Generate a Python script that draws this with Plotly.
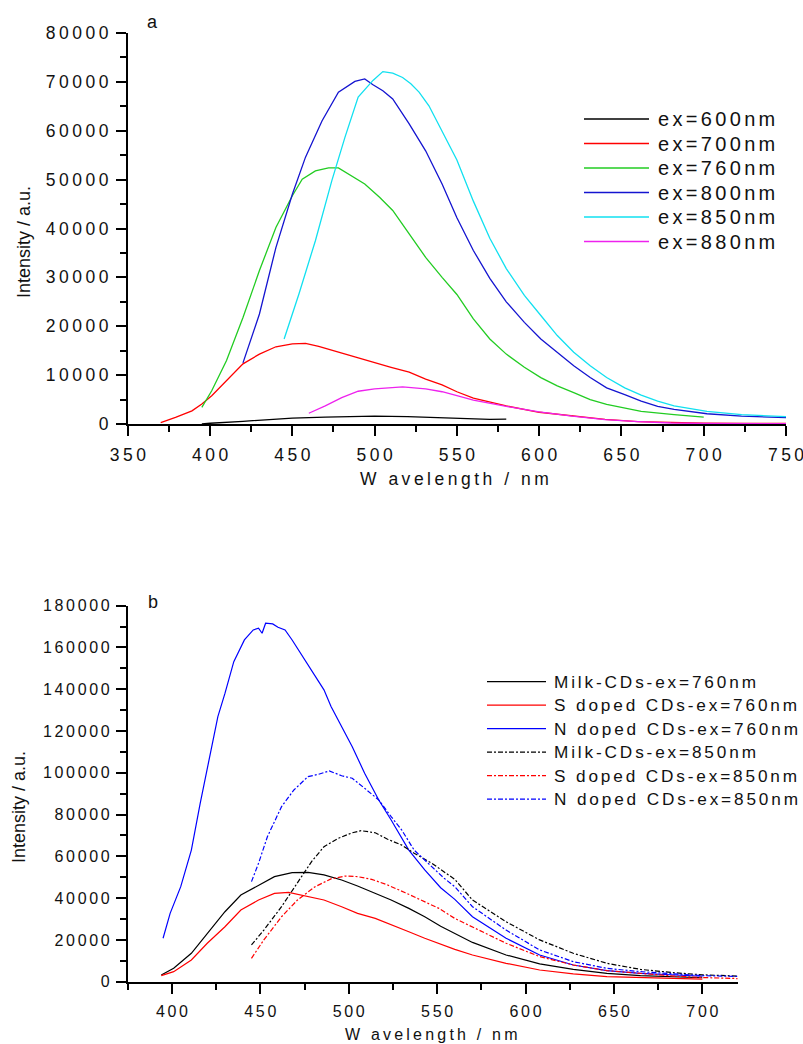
import plotly.graph_objects as go

W, H = 803, 1044
FONT = "Liberation Sans, Arial, sans-serif"

# ---------------- panel a: emission spectra at several excitation wavelengths
a600_x = [395, 400, 420, 434, 450, 470, 490, 500, 520, 540, 555, 570, 580]
a600_y = [0, 150, 550, 900, 1200, 1400, 1550, 1600, 1500, 1250, 1050, 950, 1000]

a700_x = [370, 379, 389, 395, 401, 410, 420, 430, 440, 450, 458, 466, 478, 490, 500,
          510, 521, 531, 541, 550, 560, 580, 600, 620, 640, 660, 680, 700, 725, 750]
a700_y = [300, 1350, 2700, 4100, 5800, 8900, 12300, 14300, 15800, 16400, 16500, 15900,
          14700, 13600, 12600, 11600, 10600, 9200, 8000, 6600, 5300, 3700, 2400, 1600,
          950, 500, 280, 180, 120, 100]

a760_x = [395, 401, 410, 420, 430, 440, 450, 456, 464, 472, 478, 486, 494, 503, 511, 521,
          531, 541, 550, 560, 570, 580, 591, 601, 611, 621, 631, 641, 662, 682, 700]
a760_y = [3400, 6800, 13000, 21800, 31400, 40200, 46700, 50100, 51800, 52400, 52400,
          50800, 49100, 46400, 43700, 38900, 34100, 30000, 26500, 21500, 17400, 14300,
          11600, 9500, 7800, 6400, 5000, 4000, 2600, 1900, 1400]

a800_x = [420, 430, 440, 450, 458, 468, 478, 488, 494, 499, 505, 511, 521, 531, 541, 550,
          560, 570, 580, 591, 601, 611, 621, 631, 641, 652, 662, 672, 682, 702, 723, 750]
a800_y = [12500, 22500, 36100, 47000, 54600, 62000, 67900, 70100, 70600, 69400, 68200,
          66500, 61400, 55900, 49100, 42200, 35500, 29800, 25000, 20800, 17400, 14600,
          11900, 9500, 7400, 6000, 4700, 3600, 3000, 2100, 1600, 1300]

a850_x = [445, 454, 464, 474, 482, 490, 499, 505, 511, 517, 522, 527, 533, 540, 550, 560,
          570, 580, 591, 601, 611, 621, 631, 641, 652, 662, 672, 682, 702, 723, 750]
a850_y = [17400, 26600, 37500, 49800, 58700, 66900, 70300, 72100, 71800, 70900, 69600,
          67900, 65100, 60400, 54000, 45600, 38000, 31800, 26300, 22200, 18100, 14700,
          11900, 9500, 7400, 5900, 4700, 3700, 2600, 1900, 1500]

a880_x = [460, 470, 480, 490, 500, 510, 517, 531, 541, 550, 560, 580, 600, 620, 640, 660,
          680, 700, 725, 750]
a880_y = [2200, 3700, 5400, 6700, 7200, 7500, 7600, 7200, 6600, 5800, 4900, 3600, 2500,
          1600, 900, 500, 200, 100, 50, 50]

a_names = ["ex=600nm", "ex=700nm", "ex=760nm", "ex=800nm", "ex=850nm", "ex=880nm"]
a_colors = ["#000000", "#ff0000", "#22cc22", "#1414d0", "#11e0f0", "#ee22ee"]
a_series = [(a600_x, a600_y), (a700_x, a700_y), (a760_x, a760_y),
            (a800_x, a800_y), (a850_x, a850_y), (a880_x, a880_y)]

# ---------------- panel b: milk CDs vs S / N doped CDs
milk760_x = [394, 401, 411, 420, 430, 439, 449, 458, 468, 477, 486, 496, 505, 515, 524, 534,
             543, 552, 560, 570, 589, 608, 627, 646, 665, 684, 700]
milk760_y = [3200, 6400, 13600, 23100, 33500, 41500, 46300, 50300, 52200, 52300, 51100,
             48700, 45800, 42300, 39100, 35100, 31100, 26500, 23000, 18800, 12800, 8500,
             5900, 4000, 2900, 2400, 1900]

s760_x = [394, 401, 411, 420, 430, 439, 449, 458, 466, 473, 486, 496, 505, 515, 524, 534,
          543, 552, 560, 570, 589, 608, 627, 646, 665, 684, 700]
s760_y = [2900, 4800, 10400, 18400, 26300, 34300, 39100, 42300, 42800, 41500, 39100, 35900,
          32700, 30300, 27100, 23900, 20800, 17800, 15500, 12800, 8800, 5600, 3700, 2400,
          2000, 1600, 1200]

n760_x = [395, 399, 405, 411, 416, 422, 426, 430, 435, 441, 446, 449, 451, 453, 457, 460,
          464, 468, 471, 476, 481, 486, 490, 496, 502, 509, 517, 524, 534, 543, 552, 560,
          570, 589, 608, 627, 646, 665, 684, 700]
n760_y = [20800, 32700, 45500, 63000, 85400, 110900, 126900, 138000, 153200, 163600,
          168400, 169200, 166800, 171600, 171300, 169700, 168400, 163600, 159600, 153200,
          146800, 139700, 131700, 122100, 112500, 99800, 87000, 77400, 63000, 53500, 45000,
          39400, 31100, 20800, 12800, 8000, 5300, 4000, 3200, 2600]

milk850_x = [445, 452, 462, 471, 479, 486, 494, 502, 507, 515, 522, 530, 537, 547, 554, 560,
             570, 589, 608, 627, 646, 665, 684, 700, 720]
milk850_y = [17600, 24700, 35900, 47100, 57500, 64600, 68600, 71300, 72300, 71300, 68200,
             65400, 61500, 56700, 52700, 49000, 39100, 28700, 20000, 13600, 8800, 5900,
             4300, 3300, 2700]

s850_x = [445, 452, 462, 471, 481, 490, 498, 505, 513, 522, 532, 541, 551, 560, 570, 589,
          608, 627, 646, 665, 684, 700, 720]
s850_y = [11200, 20000, 31100, 39100, 45500, 49200, 50600, 50300, 49000, 46300, 42600,
          39100, 35100, 30300, 26300, 18400, 12000, 8000, 5300, 4000, 2700, 2000, 1500]

n850_x = [445, 449, 454, 462, 469, 477, 483, 489, 496, 502, 509, 517, 524, 530, 537, 547,
          554, 560, 570, 589, 608, 627, 646, 665, 684, 700, 720]
n850_y = [47900, 56700, 69400, 83800, 91800, 98200, 99300, 100900, 98600, 97400, 92600,
          87000, 79000, 72600, 63000, 55100, 49500, 45500, 35900, 24700, 15200, 9600, 6400,
          4800, 3700, 2900, 2500]

b_names = ["Milk-CDs-ex=760nm", "S doped CDs-ex=760nm", "N doped CDs-ex=760nm",
           "Milk-CDs-ex=850nm", "S doped CDs-ex=850nm", "N doped CDs-ex=850nm"]
b_colors = ["#000000", "#ff0000", "#0000ff", "#000000", "#ff0000", "#0000ff"]
b_dashes = ["solid", "solid", "solid", "5px,2px,2px,2px", "5px,2px,2px,2px", "5px,2px,2px,2px"]
b_series = [(milk760_x, milk760_y), (s760_x, s760_y), (n760_x, n760_y),
            (milk850_x, milk850_y), (s850_x, s850_y), (n850_x, n850_y)]

# tick positions
a_xticks = list(range(350, 751, 50))
a_xminor = list(range(375, 751, 50))
a_yticks = list(range(0, 80001, 10000))
a_yminor = list(range(5000, 80000, 10000))
b_xticks = list(range(400, 701, 50))
b_xminor = list(range(375, 721, 50))
b_yticks = list(range(0, 180001, 20000))
b_yminor = list(range(10000, 180000, 20000))


def spaced(text, gap):
    """Spread characters apart with a narrow space between each pair."""
    return gap.join(text)


def px_x(p):
    return p / W


def px_y(p):
    return 1 - p / H


THIN = "\u2009"
SIXTH = "\u2006"

fig = go.Figure()

for (xs, ys), name, col in zip(a_series, a_names, a_colors):
    fig.add_trace(go.Scatter(x=xs, y=ys, mode="lines", name=name, showlegend=False,
                             line=dict(color=col, width=1.3), xaxis="x", yaxis="y"))

for (xs, ys), name, col, dash in zip(b_series, b_names, b_colors, b_dashes):
    fig.add_trace(go.Scatter(x=xs, y=ys, mode="lines", name=name, showlegend=False,
                             line=dict(color=col, width=1.2, dash=dash),
                             xaxis="x2", yaxis="y2"))


def axis_style(size, ticks, ticktext, minor_vals, standoff):
    return dict(
        showline=True, linecolor="#000000", linewidth=1.6,
        showgrid=False, zeroline=False, automargin=False,
        ticks="outside", ticklen=10, tickwidth=1.6, tickcolor="#000000",
        tickmode="array", tickvals=ticks, ticktext=ticktext,
        ticklabeloverflow="allow", ticklabelstandoff=standoff,
        tickfont=dict(family=FONT, size=size, color="#111111"),
        minor=dict(tickmode="array", tickvals=minor_vals, ticks="outside",
                   ticklen=6, tickwidth=1.6, tickcolor="#000000", showgrid=False),
        fixedrange=True,
    )


xa = axis_style(17.5, a_xticks, [spaced(str(v), THIN) for v in a_xticks], a_xminor, 4)
xa.update(domain=[px_x(127.8), px_x(786)], range=[350, 750], anchor="y")
ya = axis_style(17.5, a_yticks, [spaced(str(v), THIN) for v in a_yticks], a_yminor, 4)
ya.update(domain=[px_y(424), px_y(33)], range=[0, 80000], anchor="x")

xb = axis_style(16, b_xticks, [spaced(str(v), SIXTH) for v in b_xticks], b_xminor, 4)
xb.update(domain=[px_x(127.7), px_x(737.7)], range=[375, 720], anchor="y2")
yb = axis_style(16, b_yticks, [spaced(str(v), SIXTH) for v in b_yticks], b_yminor, 3)
yb.update(domain=[px_y(981.7), px_y(605.7)], range=[0, 180000], anchor="x2")

annotations = []
shapes = []


def label(x, y, text, size, angle=0, xanchor="center"):
    annotations.append(dict(x=px_x(x), y=px_y(y), xref="paper", yref="paper",
                            text=text, showarrow=False, textangle=angle,
                            xanchor=xanchor, yanchor="middle",
                            font=dict(family=FONT, size=size, color="#111111")))


# panel letters and axis titles
label(152, 22, "a", 18)
label(153, 602, "b", 18)
label(24, 242, "Intensity / a.u.", 18, angle=-90)
label(19, 807, "Intensity / a.u.", 18, angle=-90)
label(454, 479, spaced("W avelength / nm", THIN), 17.5)
label(431, 1034, spaced("W avelength / nm", THIN), 16)

# legend of panel a
for i, (name, col) in enumerate(zip(a_names, a_colors)):
    yy = 119 + i * 24.5
    shapes.append(dict(type="line", xref="paper", yref="paper",
                       x0=px_x(584), x1=px_x(649), y0=px_y(yy), y1=px_y(yy),
                       line=dict(color=col, width=1.6)))
    label(656, yy, spaced(name, SIXTH), 20, xanchor="left")

# legend of panel b
for i, (name, col, dash) in enumerate(zip(b_names, b_colors, b_dashes)):
    yy = 681.7 + i * 23.5
    shapes.append(dict(type="line", xref="paper", yref="paper",
                       x0=px_x(487), x1=px_x(546), y0=px_y(yy), y1=px_y(yy),
                       line=dict(color=col, width=1.3, dash=dash)))
    label(552, yy, spaced(name, SIXTH), 17.2, xanchor="left")

fig.update_layout(
    template="none",
    width=W, height=H,
    margin=dict(l=0, r=0, t=0, b=0, pad=0),
    paper_bgcolor="#ffffff", plot_bgcolor="#ffffff",
    xaxis=xa, yaxis=ya, xaxis2=xb, yaxis2=yb,
    annotations=annotations, shapes=shapes,
    showlegend=False,
)

fig.write_html("out.html")
